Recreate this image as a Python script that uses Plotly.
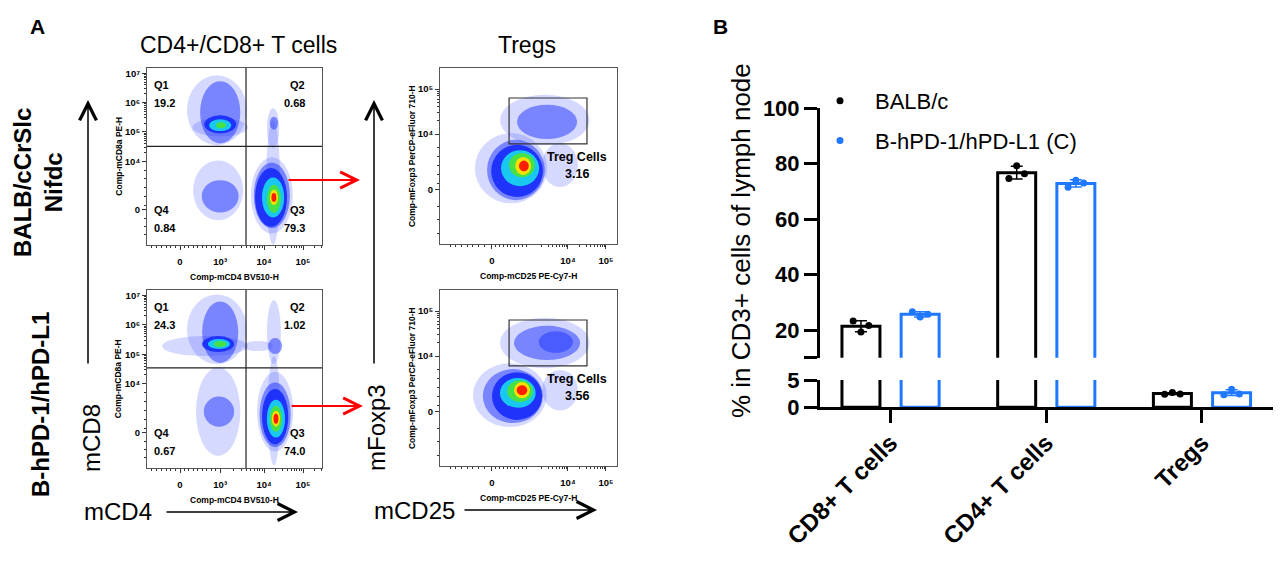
import numpy as np
import plotly.graph_objects as go

W, H = 1287, 569
FONT = "Liberation Sans, Arial, sans-serif"

# %% panel B data (percent of CD3+ cells in lymph node)
categories = ["CD8+ T cells", "CD4+ T cells", "Tregs"]
group_names = ["BALB/c", "B-hPD-1/hPD-L1 (C)"]
balb_points = [[23.2, 19.3, 21.6], [74.6, 79.2, 76.3], [2.4, 2.7, 2.45]]
hpd_points = [[26.6, 24.7, 25.7], [71.4, 74.0, 73.0], [2.3, 3.3, 2.45]]

# %% panel A data (flow plots, display units: decades on biexponential scale)
quadrant_names = ["Q1", "Q2", "Q3", "Q4"]
balb_quadrants = [19.2, 0.68, 79.3, 0.84]
hpd_quadrants = [24.3, 1.02, 74.0, 0.67]
treg_gate_pct = [3.16, 3.56]
cd_gate_x = [3.61, 3.61]      # CD4 gate, per row
cd_gate_y = [4.51, 4.54]      # CD8 gate, per row
treg_gate = [2.45, 4.5, 3.78, 4.8]   # CD25 low/high, Foxp3 low/high

# populations: centre x, centre y, spread x, spread y, density level (0 sparse .. 6 peak)
balb_cd_pops = [
    [2.90, 5.74, 0.73, 1.19, 0], [2.98, 5.16, 0.68, 0.31, 0], [2.98, 5.67, 0.49, 1.06, 1],
    [2.98, 5.26, 0.39, 0.31, 2], [2.98, 5.23, 0.27, 0.20, 3], [3.00, 5.23, 0.12, 0.10, 4],
    [2.93, 3.01, 0.61, 1.02, 0], [2.98, 2.81, 0.45, 0.55, 1],
    [4.27, 5.13, 0.15, 0.68, 0], [4.29, 5.30, 0.10, 0.22, 1],
    [4.27, 3.28, 0.17, 2.12, 0], [4.24, 2.84, 0.51, 1.30, 0], [4.24, 2.84, 0.44, 1.12, 1],
    [4.22, 2.77, 0.39, 1.00, 2], [4.27, 2.77, 0.27, 0.68, 3], [4.29, 2.72, 0.17, 0.48, 4],
    [4.29, 2.77, 0.10, 0.26, 5], [4.29, 2.77, 0.06, 0.15, 6],
]
hpd_cd_pops = [
    [2.90, 5.85, 0.73, 1.18, 0], [2.61, 5.28, 1.05, 0.34, 0], [2.98, 5.75, 0.44, 1.04, 1],
    [2.93, 5.35, 0.39, 0.27, 2], [2.95, 5.35, 0.27, 0.17, 3], [2.98, 5.35, 0.16, 0.10, 4],
    [4.29, 5.75, 0.17, 1.08, 0], [3.90, 5.28, 0.37, 0.17, 0], [4.32, 5.28, 0.17, 0.27, 1],
    [2.93, 3.06, 0.54, 1.50, 0], [2.95, 3.06, 0.37, 0.51, 1],
    [4.29, 3.09, 0.15, 1.85, 0], [4.32, 3.06, 0.44, 1.35, 0], [4.32, 2.95, 0.38, 1.10, 1],
    [4.32, 2.89, 0.32, 0.94, 2], [4.34, 2.82, 0.22, 0.64, 3], [4.34, 2.82, 0.15, 0.44, 4],
    [4.34, 2.82, 0.10, 0.27, 5], [4.34, 2.82, 0.06, 0.17, 6],
]
balb_treg_pops = [
    [2.50, 3.24, 0.95, 0.78, 0], [3.79, 3.31, 0.47, 0.49, 0], [3.39, 4.31, 1.18, 0.56, 0],
    [3.45, 4.27, 0.79, 0.38, 1], [2.63, 3.20, 0.76, 0.67, 1], [2.66, 3.18, 0.68, 0.58, 2],
    [2.74, 3.24, 0.50, 0.40, 3], [2.79, 3.31, 0.34, 0.27, 4], [2.82, 3.29, 0.21, 0.20, 5],
    [2.84, 3.29, 0.13, 0.12, 6],
]
hpd_treg_pops = [
    [2.47, 3.13, 0.97, 0.71, 0], [3.79, 3.24, 0.47, 0.45, 0], [3.39, 4.29, 1.18, 0.56, 0],
    [3.45, 4.29, 0.87, 0.38, 1], [3.68, 4.31, 0.45, 0.24, 1], [2.55, 3.11, 0.79, 0.60, 1],
    [2.66, 3.11, 0.66, 0.53, 2], [2.68, 3.18, 0.47, 0.33, 3], [2.74, 3.22, 0.34, 0.24, 4],
    [2.79, 3.24, 0.21, 0.18, 5], [2.79, 3.24, 0.14, 0.11, 6],
]

LEVEL_FILL = ["rgba(45,65,255,0.2)", "rgba(35,55,255,0.52)", "rgba(25,45,250,0.92)",
              "rgb(25,200,240)", "rgb(70,225,70)", "rgb(245,225,0)", "rgb(255,30,0)"]
BLUE = "#1f78ff"


def px_x(x):
    return x / W


def px_y(y):
    return 1 - y / H


fig = go.Figure()

# %% panel B: broken-axis bar chart
offsets = [-0.19, 0.19]
spread = [-0.05, 0, 0.05]
colors = ["black", BLUE]
for g, pts in enumerate([balb_points, hpd_points]):
    pts = np.array(pts)
    means = pts.mean(axis=1)
    sds = pts.std(axis=1, ddof=1)
    xs = np.arange(len(categories)) + offsets[g]
    for xa, ya in [("x", "y"), ("x2", "y2")]:
        fig.add_trace(go.Bar(x=xs, y=means, width=0.244, xaxis=xa, yaxis=ya,
                             marker=dict(color="white", line=dict(color=colors[g], width=3)),
                             showlegend=False))
        fig.add_trace(go.Scatter(x=xs, y=means, mode="markers", xaxis=xa, yaxis=ya,
                                 marker=dict(size=1, color="rgba(0,0,0,0)"),
                                 error_y=dict(type="data", array=sds, width=6, thickness=1.5, color=colors[g]),
                                 showlegend=False))
        px_pts = [xs[i] + spread[j] for i in range(len(categories)) for j in range(3)]
        fig.add_trace(go.Scatter(x=px_pts, y=pts.flatten(), mode="markers", xaxis=xa, yaxis=ya,
                                 marker=dict(size=7, color=colors[g]), name=group_names[g],
                                 legendgroup=group_names[g], showlegend=(xa == "x2")))

bar_x = [820, 1273]
axis_common = dict(showline=True, linewidth=3, linecolor="black", ticks="outside", ticklen=13,
                   tickwidth=3, tickcolor="black", showgrid=False, zeroline=False, automargin=False,
                   tickfont=dict(size=22, weight="bold", color="black"))
fig.update_layout(
    xaxis=dict(axis_common, domain=[px_x(bar_x[0]), px_x(bar_x[1])], range=[-0.453, 2.456], anchor="y",
               tickmode="array", tickvals=list(range(len(categories))), ticktext=categories,
               tickangle=-45, ticklabelstandoff=-4, tickfont=dict(size=24, weight="bold", color="black")),
    yaxis=dict(axis_common, domain=[px_y(407.3), px_y(380)], range=[0, 5], anchor="x",
               tickmode="array", tickvals=[0, 5]),
    xaxis2=dict(domain=[px_x(bar_x[0]), px_x(bar_x[1])], range=[-0.453, 2.456], anchor="y2",
                matches="x", visible=False, automargin=False),
    yaxis2=dict(axis_common, domain=[px_y(357.75), px_y(108)], range=[10, 100], anchor="x2",
                tickmode="array", tickvals=[10, 20, 40, 60, 80, 100],
                ticktext=["", "20", "40", "60", "80", "100"]),
)


# %% panel A: flow plots
def flow_axes(xdom, ydom, xr, yr, xvals, xtext, yvals, ytext, xminor, yminor):
    common = dict(showline=True, mirror=True, linecolor="#555", linewidth=1, showgrid=False,
                  zeroline=False, ticks="outside", ticklen=4, tickwidth=1, tickcolor="#333",
                  automargin=False, tickfont=dict(size=9.5, weight="bold", color="black"),
                  tickmode="array")
    xa = dict(common, domain=xdom, range=xr, tickvals=xvals, ticktext=xtext, ticklabelstandoff=4,
              minor=dict(tickmode="array", tickvals=xminor, ticks="outside", ticklen=2, tickcolor="#333"))
    ya = dict(common, domain=ydom, range=yr, tickvals=yvals, ticktext=ytext,
              minor=dict(tickmode="array", tickvals=yminor, ticks="outside", ticklen=2, tickcolor="#333"))
    return xa, ya


logm = np.log10(np.arange(2, 10))
cd_xminor = list(1.3 + 0.12 * np.arange(6)) + list(2.1 + 0.11 * np.arange(8)) \
    + list(2.98 + 1.07 * logm) + list(4.05 + 0.95 * logm) + list(5.0 + 0.95 * logm[:2])
cd_yminor = list(1.5 + 0.28 * np.arange(3)) + list(2.5 + 0.3 * np.arange(5)) \
    + [k + m for k in (4, 5, 6) for m in logm]
tr_xminor = list(0.9 + 0.15 * np.arange(7)) + list(2.1 + 0.1 * np.arange(9)) \
    + list(3.0 + logm) + list(4.0 + logm) + list(5.0 + logm[:2])
tr_yminor = list(1.8 + 0.3 * np.arange(3)) + list(2.9 + 0.2 * np.arange(5)) + list(4.0 + logm)

SUP = {3: "10³", 4: "10⁴", 5: "10⁵", 6: "10⁶", 7: "10⁷"}
cd_dom_x = [px_x(147), px_x(322)]
tr_dom_x = [px_x(440), px_x(617)]
plots = [
    # axis no, x domain, y domain, kind, populations, row
    (3, cd_dom_x, [px_y(245), px_y(68)], "cd", balb_cd_pops, 0),
    (4, cd_dom_x, [px_y(468), px_y(290)], "cd", hpd_cd_pops, 1),
    (5, tr_dom_x, [px_y(244), px_y(68)], "treg", balb_treg_pops, 0),
    (6, tr_dom_x, [px_y(466), px_y(290)], "treg", hpd_treg_pops, 1),
]
shapes = []
annotations = []
small = dict(size=8.5, weight="bold", color="black", family=FONT)
lab = dict(size=11, weight="bold", color="black", family=FONT)


def note(text, x, y, xref, yref, font, xanchor="center", angle=0):
    annotations.append(dict(text=text, x=x, y=y, xref=xref, yref=yref, xanchor=xanchor,
                            yanchor="middle", textangle=angle, showarrow=False, font=font))


for n, xdom, ydom, kind, pops, row in plots:
    if kind == "cd":
        xa, ya = flow_axes(xdom, ydom, [1.195, 5.463], [1.15, 7.18],
                           [2.0, 2.98, 4.05, 5.0], ["0", SUP[3], SUP[4], SUP[5]],
                           [2.35, 4, 5, 6, 7], ["0", SUP[4], SUP[5], SUP[6], SUP[7]],
                           cd_xminor, cd_yminor)
        xtitle, ytitle = "Comp-mCD4 BV510-H", "Comp-mCD8a PE-H"
    else:
        xa, ya = flow_axes(xdom, ydom, [0.632, 5.29], [1.556, 5.467],
                           [2.0, 4.0, 5.0], ["0", SUP[4], SUP[5]],
                           [2.76, 4, 5], ["0", SUP[4], SUP[5]], tr_xminor, tr_yminor)
        xtitle, ytitle = "Comp-mCD25 PE-Cy7-H", "Comp-mFoxp3 PerCP-eFluor 710-H"
    xa["anchor"] = f"y{n}"
    ya["anchor"] = f"x{n}"
    fig.update_layout(**{f"xaxis{n}": xa, f"yaxis{n}": ya})
    # invisible trace so the subplot is drawn
    fig.add_trace(go.Scatter(x=[], y=[], xaxis=f"x{n}", yaxis=f"y{n}", showlegend=False))

    for cx, cy, rx, ry, lvl in sorted(pops, key=lambda p: p[4]):
        shapes.append(dict(type="circle", xref=f"x{n}", yref=f"y{n}", x0=cx - rx, x1=cx + rx,
                           y0=cy - ry, y1=cy + ry, fillcolor=LEVEL_FILL[lvl], line=dict(width=0),
                           layer="above"))
    dx, dy = f"x{n} domain", f"y{n} domain"
    note(xtitle, 0.5, -0.18, dx, dy, small)
    note(ytitle, -0.165 if kind == "cd" else -0.158, 0.5, dx, dy, small, angle=-90)
    if kind == "cd":
        shapes.append(dict(type="line", xref=f"x{n}", yref=dy, x0=cd_gate_x[row], x1=cd_gate_x[row],
                           y0=0, y1=1, line=dict(color="#222", width=1.2)))
        shapes.append(dict(type="line", xref=dx, yref=f"y{n}", x0=0, x1=1, y0=cd_gate_y[row],
                           y1=cd_gate_y[row], line=dict(color="#222", width=1.2)))
        vals = [balb_quadrants, hpd_quadrants][row]
        pos = {"Q1": (0.029, 0.905, "left"), "Q2": (0.914, 0.905, "right"),
               "Q3": (0.914, 0.198, "right"), "Q4": (0.029, 0.198, "left")}
        for name, v in zip(quadrant_names, vals):
            x, y, anc = pos[name]
            txt = f"{v:.2f}" if v < 10 else f"{v:.1f}"
            note(name, x, y, dx, dy, lab, xanchor=anc)
            note(txt, x, y - 0.102, dx, dy, lab, xanchor=anc)
    else:
        x0, x1, y0, y1 = treg_gate
        shapes.append(dict(type="rect", xref=f"x{n}", yref=f"y{n}", x0=x0, x1=x1, y0=y0, y1=y1,
                           line=dict(color="#333", width=1.2)))
        note("Treg Cells", 0.593, 0.494, dx, dy, dict(lab, size=12.5), xanchor="left")
        note(f"{treg_gate_pct[row]:.2f}", 0.774, 0.396, dx, dy, dict(lab, size=12.5))

# %% panel labels, titles and arrows
big = dict(family=FONT, color="black")
texts = [
    ("A", 37, 26, 0, dict(big, size=21, weight="bold")),
    ("B", 720, 26, 0, dict(big, size=21, weight="bold")),
    ("CD4+/CD8+ T cells", 238, 45, 0, dict(big, size=23)),
    ("Tregs", 527, 45, 0, dict(big, size=23)),
    ("BALB/cCrSlc<br>Nifdc", 38, 183, -90, dict(big, size=24, weight="bold")),
    ("B-hPD-1/hPD-L1", 40, 405, -90, dict(big, size=24, weight="bold")),
    ("mCD8", 91, 438, -90, dict(big, size=24)),
    ("mCD4", 118, 512, 0, dict(big, size=24)),
    ("mFoxp3", 376, 428, -90, dict(big, size=24)),
    ("mCD25", 414, 510, 0, dict(big, size=24)),
    ("% in CD3+ cells of lymph node", 741, 241, -90, dict(big, size=26)),
]
for t, x, y, ang, f in texts:
    note(t, px_x(x), px_y(y), "paper", "paper", f, angle=ang)

arrows = [
    ((88, 365), (88, 100), "black", 1.5, 2.2),
    ((165, 512), (298, 512), "black", 1.5, 2.2),
    ((374, 365), (374, 100), "black", 1.5, 2.2),
    ((463, 510), (597, 510), "black", 1.5, 2.2),
    ((287, 180), (360, 180), "red", 2, 1.6),
    ((290, 406), (363, 406), "red", 2, 1.6),
]
for (tx, ty), (hx, hy), col, wdt, size in arrows:
    annotations.append(dict(text="", x=px_x(hx), y=px_y(hy), ax=tx - hx, ay=ty - hy,
                            xref="paper", yref="paper", axref="pixel", ayref="pixel",
                            showarrow=True, arrowhead=5, arrowsize=size, arrowwidth=wdt,
                            arrowcolor=col, standoff=0, startstandoff=0))

fig.update_layout(
    width=W, height=H, margin=dict(l=0, r=0, t=0, b=0, autoexpand=False),
    paper_bgcolor="white", plot_bgcolor="rgba(0,0,0,0)",
    font=dict(family=FONT, color="black"),
    shapes=shapes, annotations=annotations,
    legend=dict(x=px_x(805), y=px_y(80), xanchor="left", yanchor="top", font=dict(size=22),
                bgcolor="rgba(0,0,0,0)", tracegroupgap=8, itemwidth=60),
)

fig.write_html("out.html", config={"displayModeBar": False},
               post_script="document.body.style.margin = '0px';")
